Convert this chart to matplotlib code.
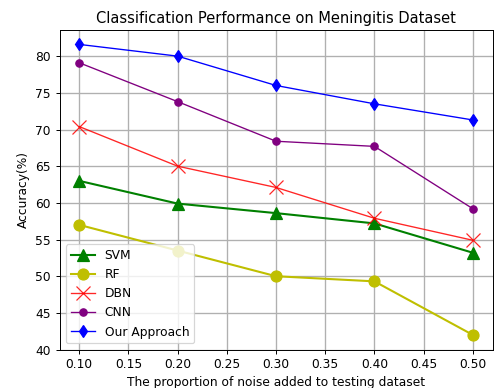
import matplotlib
matplotlib.use("Agg")
import matplotlib.pyplot as plt

noise = [0.1, 0.2, 0.3, 0.4, 0.5]
svm = [63.0, 59.9, 58.6, 57.2, 53.2]
rf = [57.0, 53.5, 50.0, 49.3, 42.0]
dbn = [70.4, 65.0, 62.1, 57.9, 54.9]
cnn = [79.1, 73.8, 68.4, 67.7, 59.2]
ours = [81.6, 80.0, 76.0, 73.5, 71.3]

DPI = 88
fig = plt.figure(figsize=(496 / DPI, 388 / DPI), dpi=DPI)
plt.plot(noise, svm, 'g^-', label='SVM', markersize=10, linewidth=1.7)
plt.plot(noise, rf, 'yo-', label='RF', markersize=9, linewidth=1.7)
plt.plot(noise, dbn, 'rx-', label='DBN', markersize=12, linewidth=1.1, alpha=0.85)
plt.plot(noise, cnn, 'o-', color='purple', label='CNN', markersize=6, linewidth=1.1)
plt.plot(noise, ours, 'bd-', label='Our Approach', markersize=7, linewidth=1.1)

plt.xlabel('The proportion of noise added to testing dataset')
plt.ylabel('Accuracy(%)')
plt.title('Classification Performance on Meningitis Dataset')
plt.xticks([0.1, 0.15, 0.2, 0.25, 0.3, 0.35, 0.4, 0.45, 0.5])
plt.yticks([40, 45, 50, 55, 60, 65, 70, 75, 80])
plt.grid(True, linewidth=1.1)
plt.legend(loc='lower left')
plt.subplots_adjust(left=0.12, right=0.993, top=0.923, bottom=0.099)
plt.savefig('out.png', dpi=DPI)
